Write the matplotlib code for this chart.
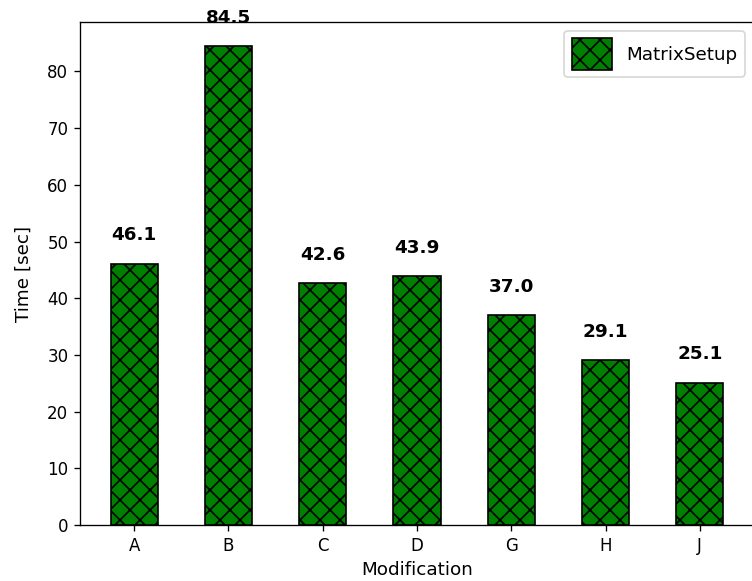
import matplotlib
matplotlib.use("Agg")
import matplotlib.pyplot as plt

categories = ["A", "B", "C", "D", "G", "H", "J"]
values = [46.1, 84.5, 42.6, 43.9, 37.0, 29.1, 25.1]
series_name = "MatrixSetup"

DPI = 120
W, H = 752, 581
fig = plt.figure(figsize=(W / DPI, H / DPI), dpi=DPI)
left, right, top, bottom = 80, 754, 22, 525
ax = fig.add_axes([left / W, 1 - bottom / H, (right - left) / W, (bottom - top) / H])

x = list(range(len(categories)))
ax.bar(x, values, width=0.5, color="green", edgecolor="black", hatch="xx", label=series_name)
ax.set_xticks(x)
ax.set_xticklabels(categories)
ax.tick_params(labelsize=10)
for xi, v in zip(x, values):
    ax.text(xi, v + 5, f"{v:.1f}", ha="center", va="center", fontweight="bold", fontsize=11)
ax.set_ylabel("Time [sec]", fontsize=11, labelpad=8.5)
ax.set_xlabel("Modification", fontsize=11)
ax.legend(loc="upper right", fontsize=11, handlelength=2.18, handleheight=2.25)

fig.savefig("out.png", dpi=DPI)
